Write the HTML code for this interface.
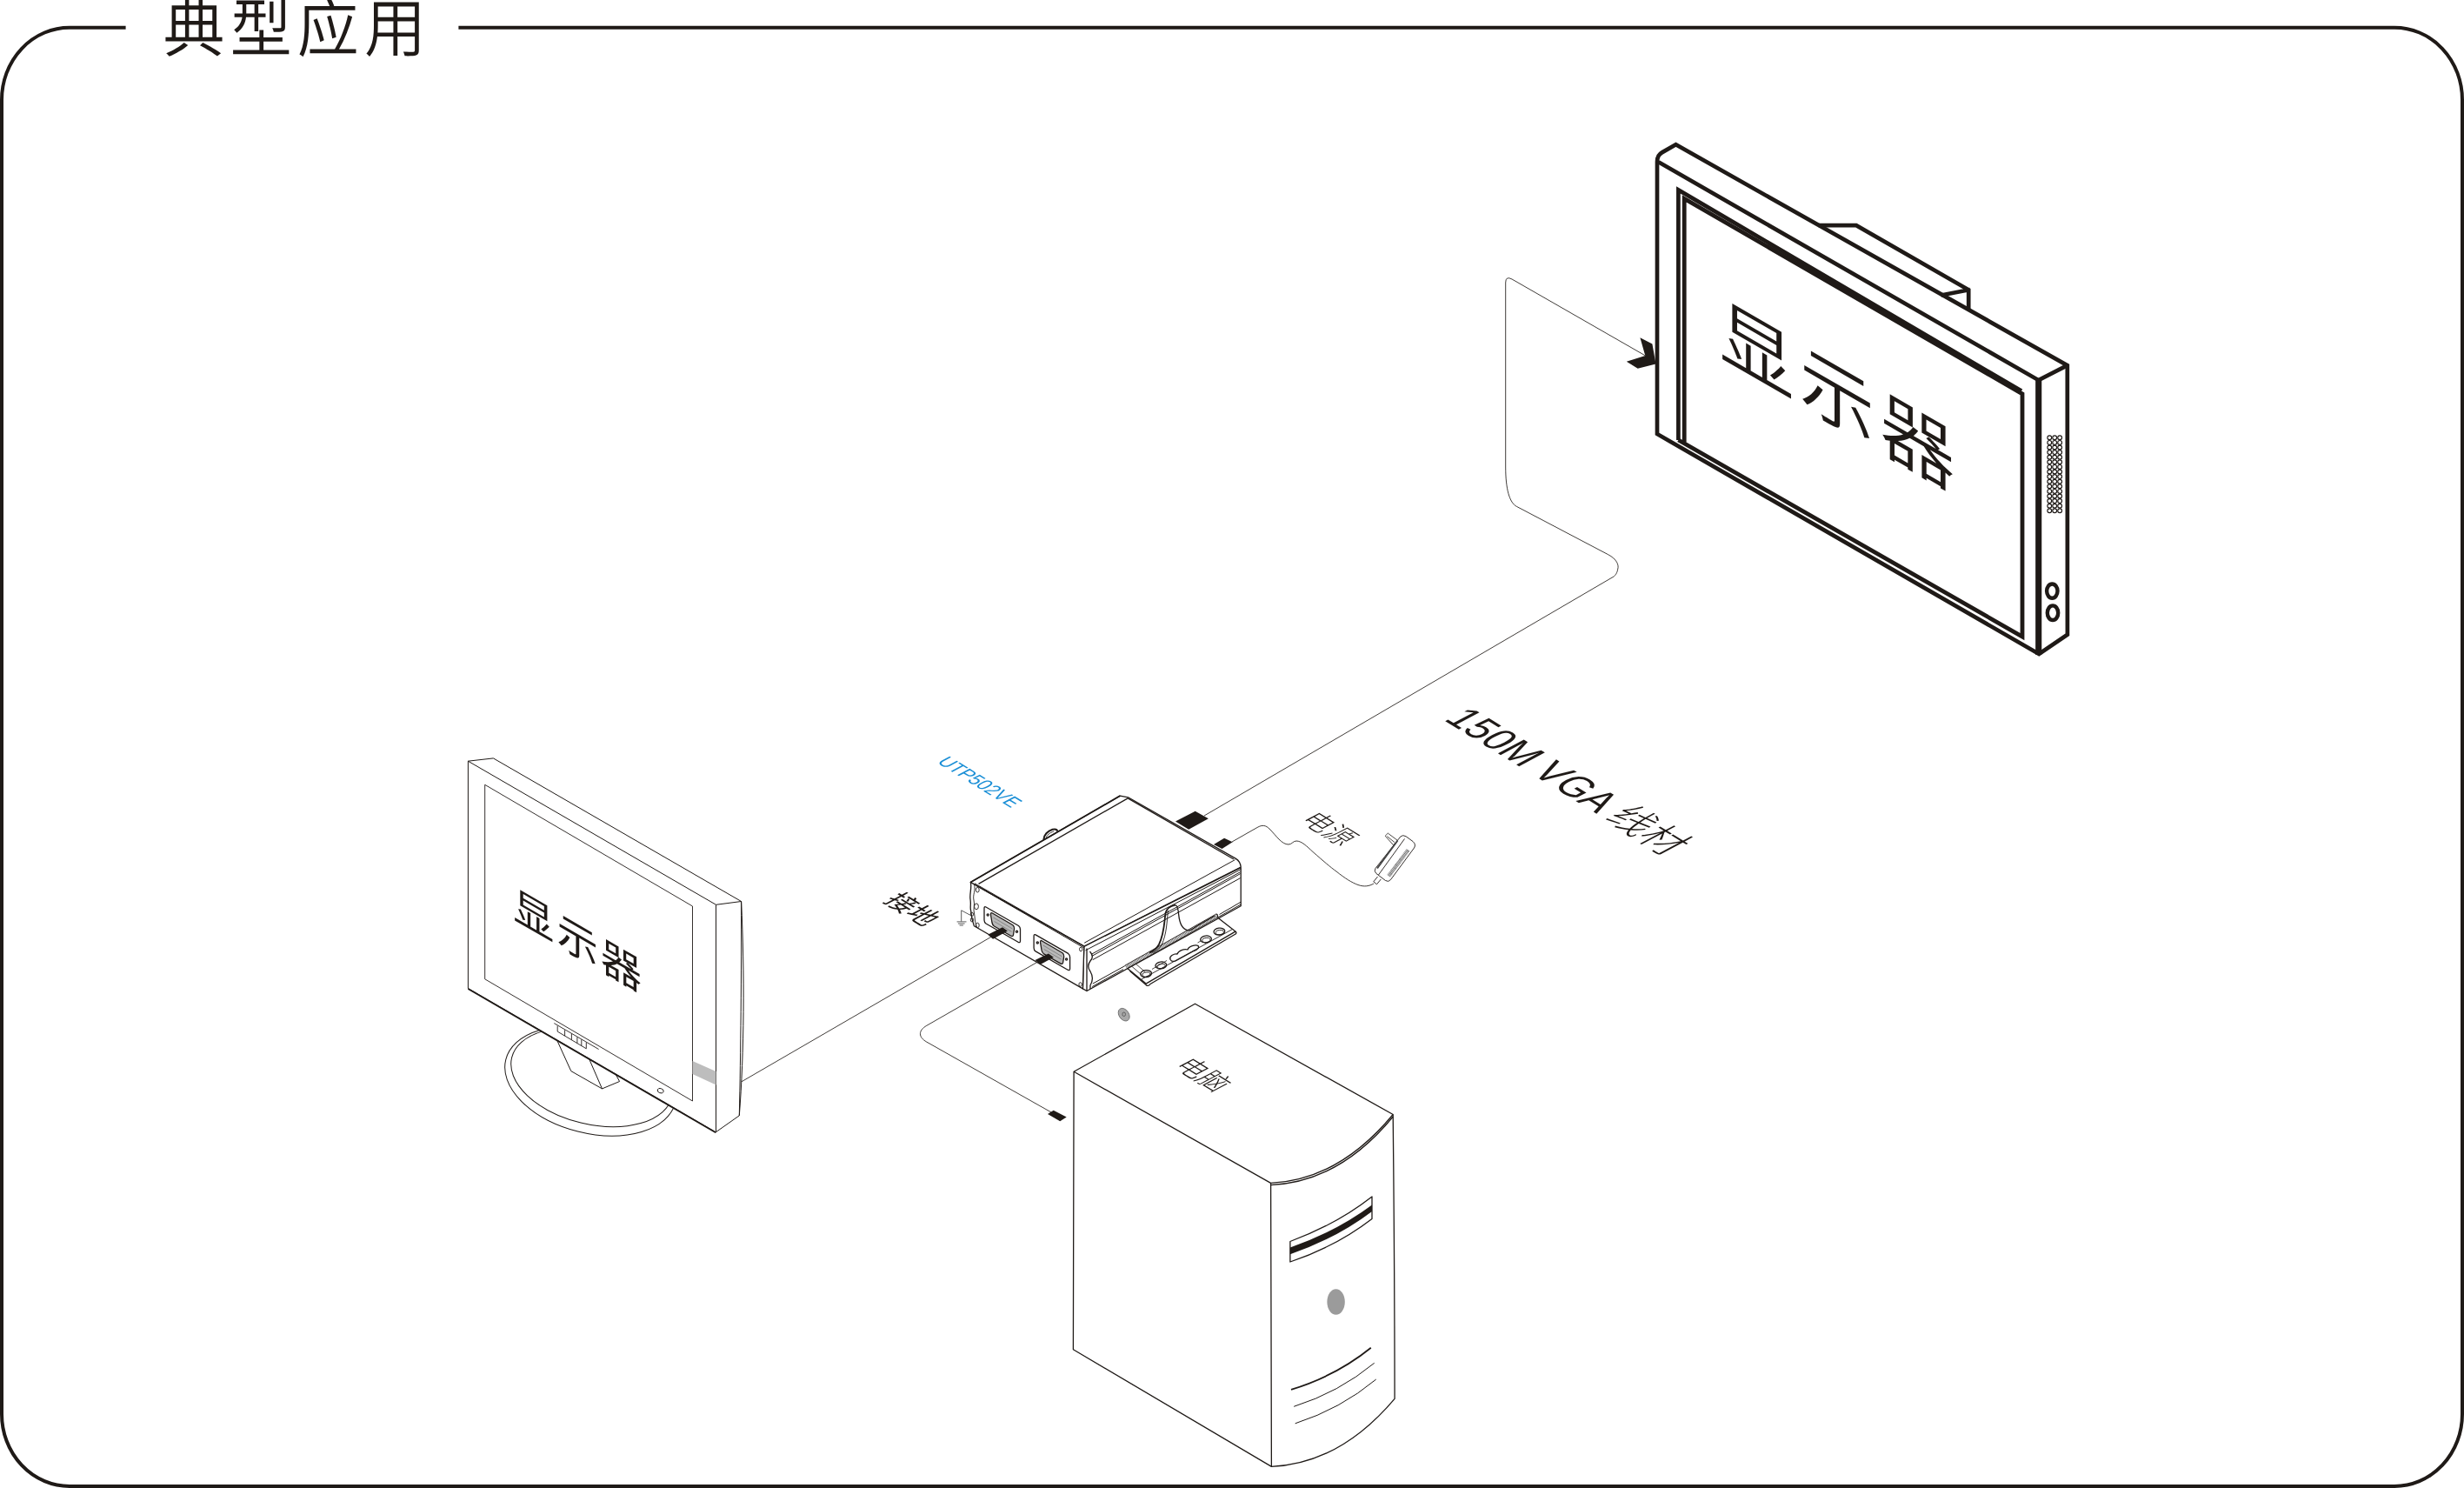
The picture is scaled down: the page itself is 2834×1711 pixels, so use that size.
<!DOCTYPE html>
<html lang="zh-CN"><head><meta charset="utf-8"><title>典型应用</title>
<style>
html,body{margin:0;padding:0;background:#fff;}
body{width:2834px;height:1711px;overflow:hidden;}
svg{display:block;will-change:transform;}
text{font-family:"Liberation Sans","Noto Sans CJK SC",sans-serif;text-rendering:geometricPrecision;}
</style></head><body>
<svg width="2834" height="1711" viewBox="0 0 2834 1711">
<rect width="2834" height="1711" fill="#fff"/>
<path d="M144.6,31.7 H80 A78,83 0 0 0 2,114.7 V1626 A78,83 0 0 0 80,1709 H2754 A78,83 0 0 0 2832,1626 V114.7 A78,83 0 0 0 2754,31.7 H527.4" fill="none" stroke="#1f1a17" stroke-width="4"/>
<text transform="translate(187.6,59.2) scale(1,1.034)" font-size="71" font-weight="350" letter-spacing="6.1" fill="#1f1a17">典型应用</text>
<g fill="none" stroke="#1f1a17" stroke-width="4.7" stroke-linejoin="miter" stroke-miterlimit="6">
<path d="M1906,499 L1906,186 Q1906,178.5 1911.5,175.4 L1927.5,166.3 L2377.8,420.2 L2377.9,729.7 L2345.2,752 Z" fill="#fff"/>
<path d="M1907.5,186.3 L2344.7,437.2 L2377.8,420.2"/>
<path d="M2344.7,437.2 L2344.7,753" stroke-width="7.1"/>
<path d="M1930.4,506 L1930.4,218.4 L2325,449.6"/>
<path d="M1937.2,509 L1937.2,228.4 L2326,452.8 L2326,732 L1930.4,506" stroke-width="4.8"/>
<path d="M2091.7,259.2 L2135,259.2 L2264.2,333.3 L2264.2,356.5 M2232.5,339.5 L2266,333"/>
</g>
<g fill="none" stroke="#1f1a17" stroke-width="1.15"><circle cx="2357.27" cy="503.30" r="2.4"/><circle cx="2357.27" cy="508.90" r="2.4"/><circle cx="2357.27" cy="514.50" r="2.4"/><circle cx="2357.27" cy="520.10" r="2.4"/><circle cx="2357.27" cy="525.70" r="2.4"/><circle cx="2357.27" cy="531.30" r="2.4"/><circle cx="2357.27" cy="536.90" r="2.4"/><circle cx="2357.27" cy="542.50" r="2.4"/><circle cx="2357.27" cy="548.10" r="2.4"/><circle cx="2357.27" cy="553.70" r="2.4"/><circle cx="2357.27" cy="559.30" r="2.4"/><circle cx="2357.27" cy="564.90" r="2.4"/><circle cx="2357.27" cy="570.50" r="2.4"/><circle cx="2357.27" cy="576.10" r="2.4"/><circle cx="2357.27" cy="581.70" r="2.4"/><circle cx="2357.27" cy="587.30" r="2.4"/><circle cx="2363.20" cy="503.30" r="2.4"/><circle cx="2363.20" cy="508.90" r="2.4"/><circle cx="2363.20" cy="514.50" r="2.4"/><circle cx="2363.20" cy="520.10" r="2.4"/><circle cx="2363.20" cy="525.70" r="2.4"/><circle cx="2363.20" cy="531.30" r="2.4"/><circle cx="2363.20" cy="536.90" r="2.4"/><circle cx="2363.20" cy="542.50" r="2.4"/><circle cx="2363.20" cy="548.10" r="2.4"/><circle cx="2363.20" cy="553.70" r="2.4"/><circle cx="2363.20" cy="559.30" r="2.4"/><circle cx="2363.20" cy="564.90" r="2.4"/><circle cx="2363.20" cy="570.50" r="2.4"/><circle cx="2363.20" cy="576.10" r="2.4"/><circle cx="2363.20" cy="581.70" r="2.4"/><circle cx="2363.20" cy="587.30" r="2.4"/><circle cx="2369.13" cy="503.30" r="2.4"/><circle cx="2369.13" cy="508.90" r="2.4"/><circle cx="2369.13" cy="514.50" r="2.4"/><circle cx="2369.13" cy="520.10" r="2.4"/><circle cx="2369.13" cy="525.70" r="2.4"/><circle cx="2369.13" cy="531.30" r="2.4"/><circle cx="2369.13" cy="536.90" r="2.4"/><circle cx="2369.13" cy="542.50" r="2.4"/><circle cx="2369.13" cy="548.10" r="2.4"/><circle cx="2369.13" cy="553.70" r="2.4"/><circle cx="2369.13" cy="559.30" r="2.4"/><circle cx="2369.13" cy="564.90" r="2.4"/><circle cx="2369.13" cy="570.50" r="2.4"/><circle cx="2369.13" cy="576.10" r="2.4"/><circle cx="2369.13" cy="581.70" r="2.4"/><circle cx="2369.13" cy="587.30" r="2.4"/></g>
<ellipse cx="2360.3" cy="679.6" rx="6.2" ry="8.1" fill="none" stroke="#1f1a17" stroke-width="4.4"/>
<ellipse cx="2361" cy="704.7" rx="6.2" ry="8.3" fill="none" stroke="#1f1a17" stroke-width="4.4"/>
<polygon points="1886.4,388.2 1900.4,395.5 1904.5,418.5 1883.7,423.7 1870.8,415.7 1892.3,408.9" fill="#1f1a17"/>
<text transform="matrix(1,0.577,0,1,1977.6,408.2)" font-size="86" font-weight="350" letter-spacing="6.5" fill="#1f1a17">显示器</text>
<g fill="none" stroke="#1f1a17" stroke-width="0.85">
<path d="M1892.3,408.9 L1739,321 Q1731.7,317 1731.7,325 L1731.7,537 C1731.7,562 1736,578 1744.4,582.4 L1849.3,637.5 C1860,643 1862,650 1860.8,654 C1860,659 1858,661.5 1856,663 L1385,938"/>
<path d="M1141,1076.7 L852.2,1244.2"/>
<path d="M1193.8,1105.9 L1065.8,1179.3 C1056,1185 1056,1192.5 1065.8,1198.1 L1210.7,1279.9"/>
<path d="M1417,968 L1446,951.5 C1452,948 1456,949 1460,953 C1468,961 1474,971 1482,971 C1486,971 1487,967 1491,967 C1497,967 1503,973 1510,979.5 C1522,990 1530,997 1537,1002 C1547,1010 1555,1015 1562,1017.5 C1569,1020 1575,1019 1580,1016"/>
</g>
<g fill="none" stroke="#1f1a17" stroke-width="1.3" stroke-linejoin="round">
<path d="M1296.4,1113.2 L1318.1,1131.1 L1420.9,1071.1 L1400.4,1055.1 Z" fill="#fff"/>
<path d="M1299.5,1116.5 L1319,1133.3 Q1321.5,1134 1323,1131.5 L1421.5,1073.8 Q1422.5,1072 1420.9,1071.1"/>
<path d="M1313,1126 L1417.5,1068.5" stroke-width="0.9"/>
<path d="M1301,1110.5 L1312.5,1120.5 M1306,1108 L1317,1117.5" stroke-width="0.8"/>
<ellipse cx="1318.1" cy="1119.6" rx="6.4" ry="4" transform="rotate(-6 1318.1 1119.6)"/>
<ellipse cx="1318.3999999999999" cy="1120.6" rx="4.6" ry="2.6" transform="rotate(-6 1318.1 1119.6)" stroke-width="0.9"/>
<ellipse cx="1335.3" cy="1110" rx="6.4" ry="4" transform="rotate(-6 1335.3 1110)"/>
<ellipse cx="1335.6" cy="1111" rx="4.6" ry="2.6" transform="rotate(-6 1335.3 1110)" stroke-width="0.9"/>
<ellipse cx="1387" cy="1080" rx="6.4" ry="4" transform="rotate(-6 1387 1080)"/>
<ellipse cx="1387.3" cy="1081" rx="4.6" ry="2.6" transform="rotate(-6 1387 1080)" stroke-width="0.9"/>
<ellipse cx="1402.4" cy="1071.1" rx="6.4" ry="4" transform="rotate(-6 1402.4 1071.1)"/>
<ellipse cx="1402.7" cy="1072.1" rx="4.6" ry="2.6" transform="rotate(-6 1402.4 1071.1)" stroke-width="0.9"/>
<path d="M1346,1103.2 C1344.5,1099.5 1350,1096.5 1354,1097 C1355,1093.5 1362,1090.5 1366,1092 C1367,1088.5 1375,1085.5 1378,1087.5 C1380,1089.5 1377,1092.5 1373,1093.5 L1352,1105 C1349,1106 1347,1105.3 1346,1103.2 Z"/>
<path d="M1342,1104.5 L1325,1114.5 M1377.5,1084 L1381,1082" stroke-width="0.8"/>
<path d="M1116.3,1014.5 L1288.3,915.1 L1297.5,916.8 L1421.5,987.4 Q1426.5,990.5 1427.2,997 L1246.8,1088.3 Z" fill="#fff"/>
<path d="M1116.3,1014.5 L1288.3,915.1" stroke-width="1.7"/>
<path d="M1125.5,1016.4 L1297.2,917.9 L1419,988"/>
<path d="M1247.2,1084.2 L1420.5,988.6" stroke-width="1"/>
<path d="M1200.3,965.6 C1200.5,960 1205,955.5 1210.5,953.8 C1213.5,953 1215.8,953.6 1216.4,955.8" stroke-width="2"/>
<path d="M1203.2,963.8 C1203.5,960.5 1207.5,957.5 1212,956" stroke-width="0.9"/>
<path d="M1246.8,1088.3 L1427.2,997.7 L1427.2,1041.7 L1250,1139.5 L1245.4,1136.9 Z" fill="#fff"/>
<path d="M1248.5,1092.8 L1427.2,999.6 M1255.5,1097.2 L1426.6,1002.6 M1256.2,1099.2 L1426.6,1004.6 M1256.8,1103.6 L1426.6,1009.6" stroke-width="1"/>
<path d="M1256.8,1131.1 L1293.8,1110.6 M1256.2,1134.5 L1292,1114.6 M1400,1055.3 L1427.2,1040 M1402.5,1051.5 L1427.2,1037.2" stroke-width="1"/>
<path d="M1295,1111.8 L1399.2,1053.2" stroke="#666" stroke-width="3.6" stroke-dasharray="0.8 0.7"/>
<path d="M1293.8,1110.2 L1398.5,1051.2 M1296.4,1113.6 L1400.4,1055.1" stroke-width="0.9"/>
<path d="M1398.5,1051.2 Q1401,1051 1400.4,1055.1"/>
<path d="M1250,1090.5 L1250,1139.5 M1253.5,1094 C1257,1098 1257,1102 1254,1105 C1251,1109 1251,1113 1254,1117 C1257,1122 1257,1128 1254,1133 L1254,1137"/>
<path d="M1351.9,1040.6 C1345,1042 1341.5,1045 1340.5,1050 C1339,1062 1339,1074 1333,1086 C1330,1091 1326,1094 1321.9,1095.6" stroke-width="1.8"/>
<path d="M1343.5,1047 C1342,1060 1342,1074 1336,1086.5 C1333,1091.5 1329.5,1094 1325.5,1095.5" stroke-width="0.9"/>
<path d="M1351.9,1040.6 C1354.5,1041 1355.2,1046 1355.7,1051.9 C1356.5,1060 1358.5,1068.5 1366.6,1069.8 C1371,1070 1373,1067 1376,1065.3 L1397.2,1053"/>
<path d="M1116.3,1014.5 C1118,1020 1115,1028 1116,1034 C1117,1040 1115.5,1044 1116.6,1046.8 C1117,1054 1118.5,1060 1120.4,1064.7 L1245.4,1136.9 L1246.8,1088.3 Z" fill="#fff"/>
<path d="M1121,1015.8 L1246.5,1087.5 M1122.5,1018.2 L1246.2,1089.6" stroke-width="1"/>
<path d="M1120.5,1017 C1122.5,1024 1118.5,1029 1120,1035 C1121.5,1040 1119,1046 1120.5,1050 C1121.5,1055 1121,1061 1123.5,1066" stroke-width="0.9"/>
<ellipse cx="1124.3" cy="1023.2" rx="1.9" ry="2.8" stroke-width="0.9"/>
<ellipse cx="1123" cy="1042.3" rx="2.4" ry="3.4" stroke-width="0.9"/>
<ellipse cx="1117.9" cy="1051.3" rx="1.6" ry="2.2" stroke-width="0.9"/>
<ellipse cx="1117.9" cy="1057.7" rx="1.6" ry="2.2" stroke-width="0.9"/>
<ellipse cx="1124.3" cy="1064" rx="1.9" ry="2.8" stroke-width="0.9"/>
<ellipse cx="1243.2" cy="1091.5" rx="1.7" ry="2.3" stroke-width="0.9"/>
<ellipse cx="1242.6" cy="1132" rx="1.7" ry="2.3" stroke-width="0.9"/>
<path d="M1134,1043 L1171.5,1064.5 Q1173.5,1066 1173.5,1068.5 L1173.5,1082 Q1173.5,1084.5 1171,1083.3 L1134,1062 Q1132,1060.5 1132,1058 L1132,1044.5 Q1132,1042 1134,1043 Z"/>
<path d="M1141,1049.8 L1165,1063.8 Q1167,1065.5 1166.6,1068 L1165.5,1075 Q1165,1077.5 1162.5,1076 L1143.5,1065 Q1141.5,1063.5 1141,1061 L1139.5,1052 Q1139.3,1049 1141,1049.8 Z" fill="#b9b9b9"/>
<path d="M1142.5,1055 L1164.5,1068 M1143.5,1059.5 L1163.5,1071.3" stroke="#777" stroke-width="0.8"/>
<circle cx="1136.2" cy="1052" r="1.1"/><circle cx="1169.5" cy="1071.2" r="1.1"/>
<path d="M1191.1,1074.9 L1228.6,1096.4 Q1230.6,1097.9 1230.6,1100.4 L1230.6,1113.9 Q1230.6,1116.4 1228.1,1115.2 L1191.1,1093.9 Q1189.1,1092.4 1189.1,1089.9 L1189.1,1076.4 Q1189.1,1073.9 1191.1,1074.9 Z"/>
<path d="M1198.1,1081.7 L1222.1,1095.7 Q1224.1,1097.4 1223.6999999999998,1099.9 L1222.6,1106.9 Q1222.1,1109.4 1219.6,1107.9 L1200.6,1096.9 Q1198.6,1095.4 1198.1,1092.9 L1196.6,1083.9 Q1196.3999999999999,1080.9 1198.1,1081.7 Z" fill="#b9b9b9"/>
<path d="M1199.6,1086.9 L1221.6,1099.9 M1200.6,1091.4 L1220.6,1103.2" stroke="#777" stroke-width="0.8"/>
<circle cx="1193.3" cy="1083.9" r="1.1"/><circle cx="1226.6" cy="1103.1000000000001" r="1.1"/>
</g>
<g fill="#1f1a17">
<polygon points="1352,944.5 1374.7,932.8 1389.9,941.2 1367.2,953.8"/>
<polygon points="1396,970.9 1408.1,963.8 1417.7,968.3 1405.5,976"/>
<polygon points="1136.2,1074.7 1153,1066.3 1158.9,1070.5 1142.1,1079.7"/>
<polygon points="1190.5,1104.1 1205.9,1096.5 1211.8,1100.7 1196.7,1109.1"/>
<polygon points="1205,1280.9 1211.7,1276.7 1226.7,1284.6 1219.2,1289.3"/>
</g>
<path d="M1105.7,1059.6 L1105.7,1046.8 L1116.6,1052.6 M1100.6,1059.9 H1111.5 M1101.9,1062 H1109.6 M1103.6,1064 H1107.9" fill="none" stroke="#4a4a4a" stroke-width="0.9"/>
<ellipse cx="1292.7" cy="1166.7" rx="5.6" ry="8" transform="rotate(-35 1292.7 1166.7)" fill="#a9a9a9" stroke="#666" stroke-width="0.8"/>
<ellipse cx="1292.7" cy="1166.3" rx="1.8" ry="2.3" fill="none" stroke="#444" stroke-width="0.7"/>
<g fill="none" stroke="#1f1a17" stroke-width="0.9" stroke-linejoin="round">
<path d="M1593.2,961.2 L1596.3,958.1 L1608,966.8 L1602.5,971.6 Z M1595.3,961.6 L1604,968.6" stroke-width="0.8"/>
<path d="M1610.8,962 Q1613.5,959.5 1617,961.7 L1625,967.5 Q1629,971 1626.5,975 L1599.5,1011.5 Q1597,1014.8 1593.5,1012.5 L1583,1004.5 Q1580,1002 1582,998.5 Z" fill="#fff"/>
<path d="M1615.5,964.5 L1585.5,1006"/>
<path d="M1607.5,966.5 L1584,998.5" stroke-width="2" stroke="#444"/>
<path d="M1584.5,1008 L1579.8,1013.8 L1583.5,1016.8 L1588.3,1011"/>
</g>
<path d="M1619.5,977.5 L1597,1007.5" stroke="#555" stroke-width="4.4" stroke-dasharray="0.7 0.6" fill="none"/>
<g fill="none" stroke="#1f1a17" stroke-width="1" stroke-linejoin="round">
<ellipse cx="679.3" cy="1243" rx="100.6" ry="59.9" transform="rotate(14.2 679.3 1243)"/>
<ellipse cx="680.8" cy="1238.6" rx="94.9" ry="54" transform="rotate(13.7 680.8 1238.6)"/>
<path d="M637.9,1190 L656.8,1231.6 L692.5,1251.9 L712.6,1243.5 L703,1226 M675.6,1213 L692.5,1251.9"/>
<path d="M538.4,875.2 L567.4,871.9 L852.6,1036.5 C856.5,1120 856,1210 850.3,1282.8 L823.2,1301.9 L538.4,1136.5 Z" fill="#fff"/>
<path d="M852.6,1036.5 C852.8,1120 852,1210 850.3,1282.8"/>
<path d="M538.4,875.2 L823.5,1040.3 L823.5,1301.6 M823.5,1040.3 L852.6,1036.5"/>
<path d="M538.4,1137 L823.2,1302.2" stroke-width="1.9"/>
<path d="M557.7,902.3 L796.5,1042 L796.5,1266 L557.7,1125.8 Z" stroke-width="0.9"/>
<polygon points="796.5,1220.1 823.5,1232.1 823.5,1247.4 796.5,1235.1" fill="#bdbdbd" stroke="none"/>
<path d="M637.3,1176.6 L688.6,1206.5 M641.2,1179.6 L641.2,1186.1 L674.3,1205.8 L674.3,1198.7 M649.6,1184.3 V1191.1 M657.4,1188.8 V1195.7 M663.9,1192.6 V1199.6 M668.8,1195.4 V1202.5" stroke-width="0.9"/>
<ellipse cx="759.7" cy="1254.2" rx="3.6" ry="2.6" transform="rotate(20 759.7 1254.2)" stroke-width="0.9"/>
</g>
<text transform="matrix(1,0.577,0,1,590.3,1055.8)" font-size="47" font-weight="400" letter-spacing="3.4" fill="#1f1a17">显示器</text>
<g fill="none" stroke="#1f1a17" stroke-width="1.3" stroke-linejoin="round">
<path d="M1235.1,1232.3 L1374.5,1154.2 L1602.2,1281.5 Q1604,1450 1604.1,1608.3 Q1541,1683 1462.4,1686.4 L1234.4,1551.7 Z" fill="#fff"/>
<path d="M1235.1,1232.3 L1461.6,1360.4 Q1539.7,1356.9 1602.2,1281.5 M1461.6,1360.4 L1462.4,1686.4"/>
<path d="M1461.6,1362.6 Q1540,1359.5 1602.2,1284"/>
<path d="M1483.9,1427.5 Q1537,1408 1578,1376 L1578,1401.4 Q1537,1433 1483.9,1451 Z"/>
<path d="M1483.9,1434.5 Q1537,1416 1578,1385.5 L1578,1393 Q1537,1424 1483.9,1442.3 Z" fill="#1f1a17" stroke="none"/>
<path d="M1485,1597.8 Q1537,1582 1576.8,1549.8" stroke-width="1.8"/>
<path d="M1488.2,1617.3 Q1540,1601 1580.7,1567.3" stroke-width="1"/>
<path d="M1489.7,1636.8 Q1542,1620 1582.7,1586.1" stroke-width="1"/>
</g>
<ellipse cx="1536.6" cy="1497" rx="10.2" ry="14.8" fill="#9b9b9b"/>
<text transform="matrix(0.8526,0.5225,-1.02,0.542,1015.0,1036.2)" font-size="28.2" font-weight="400" fill="#1f1a17">接地</text>
<text transform="matrix(0.8526,0.5225,-1.02,0.542,1493.9,943.4)" font-size="28.7" font-weight="300" fill="#1f1a17">电源</text>
<text transform="matrix(0.8526,0.5225,-1.02,0.542,1348.7,1226.2)" font-size="28.9" font-weight="300" fill="#1f1a17">电脑</text>
<text transform="matrix(0.8526,0.5225,-1.02,0.542,1659.6,827.5)" font-size="42.4" font-weight="300" fill="#1f1a17">150M VGA 线材</text>
<text transform="matrix(0.8526,0.5225,-1.02,0.542,1076.8,876.4)" font-size="20.2" fill="#1b8fd6">UTP502VE</text>
</svg>
</body></html>
